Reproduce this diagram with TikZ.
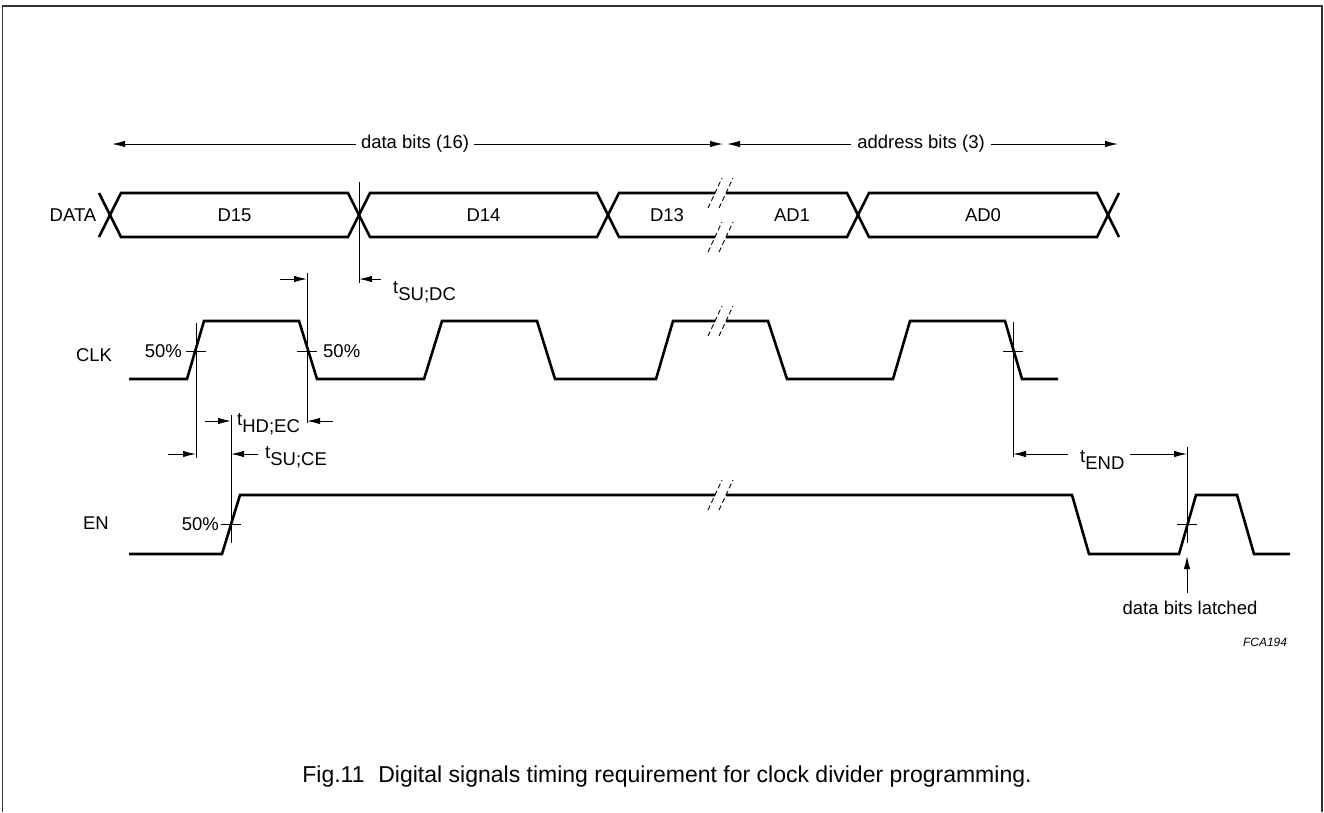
\documentclass[tikz,border=0pt]{standalone}
\usepackage{fontspec}
\setmainfont{Liberation Sans}
\usetikzlibrary{arrows.meta}

\tikzset{
  sig/.style={line width=2.6pt, line join=miter},
  mark line/.style={line width=1pt},
  brk/.style={line width=0.9pt, dash pattern=on 5pt off 3pt},
  dim/.style={line width=1pt, -{Latex[length=13pt,width=6.5pt]}},
  lbl/.style={inner sep=0pt, font=\fontsize{18.5}{22}\selectfont},
}
\newcommand{\tsub}[1]{t\raisebox{-7pt}{#1}}

\begin{document}
\begin{tikzpicture}[x=1pt,y=-1pt]
\useasboundingbox (0,0) rectangle (1324,812);
% frame
\draw[line width=1.5pt, black!80] (2.5,812) -- (2.5,6) -- (1322,6) -- (1322,812);

% signal names
\node[lbl] (data) at (73,215) {DATA};
\node[lbl] (clk) at (94,355) {CLK};
\node[lbl] (en) at (96,523) {EN};

% field arrows
\node[lbl, inner sep=5pt] (dbits) at (415,144) {data bits (16)};
\node[lbl, inner sep=6pt] (abits) at (921,144) {address bits (3)};
\coordinate (dstart) at (112,144);
\coordinate (dend) at (723,144);
\coordinate (astart) at (727,144);
\coordinate (aend) at (1118,144);
\draw[dim] (dbits.west) -- (dstart);
\draw[dim] (dbits.east) -- (dend);
\draw[dim] (abits.west) -- (astart);
\draw[dim] (abits.east) -- (aend);

% DATA bus
\foreach \a/\b/\txt/\nm in {110/359/D15/d15, 359/608/D14/d14, 858/1108/AD0/ad0} {
  \draw[sig] (\a,215) -- (\a+11,193) -- (\b-11,193) -- (\b,215) -- (\b-11,237) -- (\a+11,237) -- cycle;
  \node[lbl] (\nm) at ({(\a+\b)/2},215) {\txt};
}
\draw[sig] (715,193) -- (619,193) -- (608,215) -- (619,237) -- (715,237);
\draw[sig] (726,193) -- (847,193) -- (858,215) -- (847,237) -- (726,237);
\draw[sig] (99,193) -- (110,215) -- (99,237);
\draw[sig] (1119,193) -- (1108,215) -- (1119,237);
\node[lbl] (d13) at (667,215) {D13};
\node[lbl] (ad1) at (792,215) {AD1};

% CLK
\draw[sig] (129,379) -- (187,379) -- (204,321) -- (299,321) -- (317,379) -- (424,379)
  -- (442,321) -- (537,321) -- (555,379) -- (656,379) -- (673,321) -- (715,321);
\draw[sig] (726,321) -- (768,321) -- (787,379) -- (893,379) -- (910,321) -- (1005,321)
  -- (1022,379) -- (1058,379);

% EN
\draw[sig] (129,554) -- (222,554) -- (240,495) -- (715,495);
\draw[sig] (726,495) -- (1072,495) -- (1089,554) -- (1179,554) -- (1196,495)
  -- (1237,495) -- (1254,554) -- (1290,554);

% breaks
\foreach \y in {193,237,321,495}
  \foreach \x in {715,726}
    \draw[brk] (\x-7,\y+15) -- (\x+7,\y-15);

% marker lines and 50% points
\draw[mark line] (359,182) -- (359,283);
\draw[mark line] (196,323) -- (196,458);
\draw[mark line] (307,273) -- (307,423);
\draw[mark line] (231,415) -- (231,543);
\draw[mark line] (1013,322) -- (1013,457);
\draw[mark line] (1187,447) -- (1187,543);
\foreach \x/\y in {196/351, 307/351, 1013/351, 231/524, 1187/524}
  \draw[mark line] (\x-10,\y) -- (\x+10,\y);
\node[lbl, anchor=east] (pc1) at (182,351) {50\%};
\node[lbl, anchor=west] (pc2) at (323,351) {50\%};
\node[lbl, anchor=east] (pc3) at (219,524) {50\%};

% timing labels
\node[lbl, anchor=base west] (tsudc) at (393,293) {\tsub{SU;DC}};
\node[lbl, anchor=base west] (thdec) at (237,425) {\tsub{HD;EC}};
\node[lbl, anchor=base west] (tsuce) at (265,458) {\tsub{SU;CE}};
\node[lbl, anchor=base west] (tend) at (1080,462) {\tsub{END}};
\draw[dim] (381,279) -- (359,279);
\draw[dim] (280,279) -- (307,279);
\draw[dim] (205,421) -- (231,421);
\draw[dim] (333,421) -- (307,421);
\draw[dim] (168,454) -- (196,454);
\draw[dim] (258,454) -- (231,454);
\draw[dim] (1068,454) -- (1013,454);
\draw[dim] (1130,454) -- (1187,454);

% latch point
\node[lbl] (latch) at (1190,608) {data bits latched};
\draw[dim] (1187,593) -- (1187,556);
\node[font=\fontsize{12}{14}\selectfont\itshape] (fca) at (1265,642) {FCA194};

% caption
\node[inner sep=0pt, font=\fontsize{23}{26}\selectfont] (cap) at (667,777) {Fig.11\hspace{0.6em}Digital signals timing requirement for clock divider programming.};
\end{tikzpicture}
\end{document}
